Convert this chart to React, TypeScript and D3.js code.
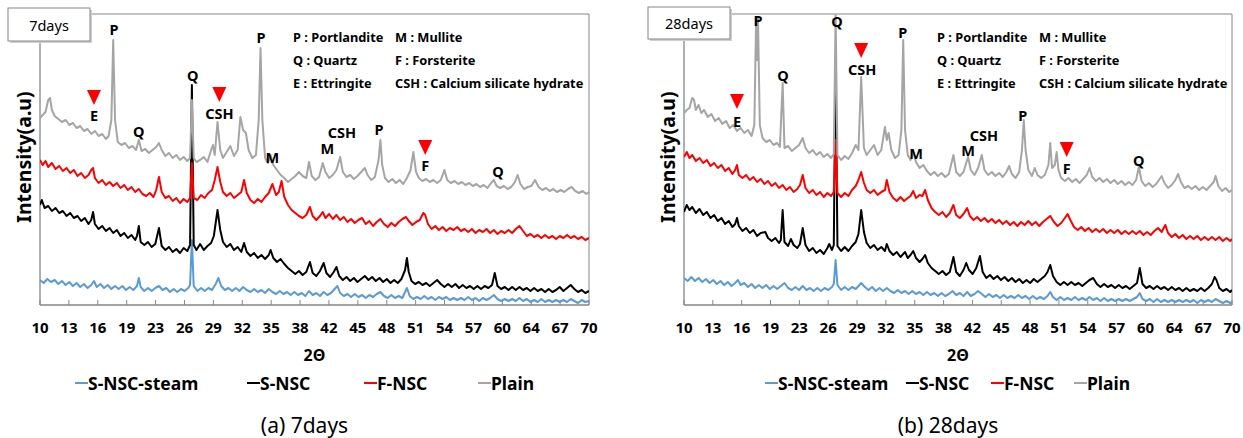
import React from "react";
import * as d3 from "d3";

type Pt = [number, number];

const tickLabels = ["10", "13", "16", "19", "23", "26", "29", "32", "35", "38", "42", "45", "48", "51", "54", "57", "60", "64", "67", "70"];
const seriesNames = ["S-NSC-steam", "S-NSC", "F-NSC", "Plain"];
const seriesColors = ["#5B9BD5", "#000000", "#FF0000", "#A5A5A5"];
const phaseNotes = [
  ["P : Portlandite", "M : Mullite"],
  ["Q : Quartz", "F : Forsterite"],
  ["E : Ettringite", "CSH : Calcium silicate hydrate"],
];

// 7 days, [2theta, intensity a.u.]
const steam7: Pt[] = [[10.0,25],[10.4,22],[10.8,26],[11.2,23],[11.6,25],[12.0,21],[12.4,24],[12.8,20],[13.2,23],[13.6,19],[14.0,22],[14.4,18],[14.8,21],[15.2,17],[15.6,20],[15.9,24],[16.2,18],[16.6,21],[17.0,17],[17.4,20],[17.8,16],[18.2,19],[18.6,16],[19.0,19],[19.4,15],[19.8,18],[20.2,15],[20.6,19],[20.8,27],[21.0,18],[21.4,14],[21.8,17],[22.2,14],[22.6,17],[23.0,19],[23.4,15],[23.8,17],[24.2,13],[24.6,16],[25.0,13],[25.4,16],[25.8,14],[26.2,17],[26.4,20],[26.6,65],[26.8,19],[27.2,14],[27.6,17],[28.0,14],[28.4,17],[28.8,15],[29.2,21],[29.5,27],[29.8,19],[30.2,15],[30.6,17],[31.0,14],[31.4,17],[31.8,14],[32.2,18],[32.6,15],[33.0,13],[33.4,16],[33.8,13],[34.2,15],[34.6,12],[35.0,16],[35.4,13],[35.8,11],[36.2,14],[36.6,11],[37.0,13],[37.4,10],[37.8,13],[38.2,10],[38.6,12],[39.0,9],[39.4,14],[39.8,10],[40.2,12],[40.6,9],[41.0,13],[41.4,10],[41.8,12],[42.2,16],[42.5,19],[42.8,12],[43.2,9],[43.6,11],[44.0,8],[44.4,11],[44.8,8],[45.2,10],[45.6,7],[46.0,10],[46.4,8],[46.8,11],[47.2,13],[47.6,9],[48.0,7],[48.4,10],[48.8,7],[49.2,9],[49.6,7],[50.1,17],[50.4,9],[50.8,6],[51.2,8],[51.6,6],[52.0,9],[52.4,6],[52.8,8],[53.2,5],[53.6,8],[54.0,6],[54.4,8],[54.8,5],[55.2,7],[55.6,5],[56.0,7],[56.4,5],[56.8,8],[57.2,5],[57.6,7],[58.0,4],[58.4,7],[58.8,5],[59.2,7],[59.6,10],[60.0,6],[60.4,4],[60.8,6],[61.2,4],[61.6,6],[62.0,4],[62.4,7],[62.8,4],[63.2,6],[63.6,3],[64.0,5],[64.4,3],[64.8,6],[65.2,3],[65.6,5],[66.0,3],[66.4,5],[66.8,3],[67.2,5],[67.6,3],[68.0,6],[68.4,4],[68.8,2],[69.2,5],[69.6,3],[70.0,4]];
const snsc7: Pt[] = [[10.0,100],[10.2,105],[10.5,97],[10.9,99],[11.3,94],[11.7,97],[12.1,92],[12.5,94],[12.9,89],[13.3,92],[13.7,87],[14.1,89],[14.5,84],[14.9,87],[15.3,81],[15.6,85],[15.8,93],[16.0,81],[16.4,76],[16.8,79],[17.2,74],[17.6,77],[18.0,72],[18.4,75],[18.8,69],[19.2,72],[19.6,67],[20.0,70],[20.4,65],[20.6,69],[20.8,79],[21.0,63],[21.4,60],[21.8,63],[22.2,58],[22.6,61],[23.0,77],[23.3,59],[23.7,55],[24.1,58],[24.5,53],[24.9,56],[25.3,52],[25.7,57],[26.1,54],[26.4,60],[26.6,220],[26.8,60],[27.1,55],[27.5,61],[27.9,55],[28.3,59],[28.7,62],[29.0,69],[29.4,95],[29.7,75],[30.0,63],[30.4,58],[30.8,61],[31.2,55],[31.6,58],[32.0,53],[32.3,62],[32.6,53],[33.0,49],[33.4,52],[33.8,47],[34.2,50],[34.6,46],[35.0,50],[35.2,55],[35.5,47],[35.9,43],[36.3,46],[36.7,41],[37.1,37],[37.5,34],[37.9,31],[38.3,34],[38.7,30],[39.1,33],[39.5,43],[39.8,32],[40.2,29],[40.6,34],[41.0,42],[41.3,32],[41.7,28],[42.1,33],[42.4,38],[42.7,29],[43.1,25],[43.5,28],[43.9,24],[44.3,27],[44.7,23],[45.1,26],[45.5,29],[45.9,25],[46.3,28],[46.7,24],[47.1,27],[47.5,23],[47.9,26],[48.3,22],[48.7,25],[49.1,22],[49.5,26],[49.9,35],[50.1,47],[50.3,33],[50.6,24],[51.0,21],[51.4,23],[51.8,20],[52.2,22],[52.6,19],[53.0,22],[53.4,25],[53.8,21],[54.2,18],[54.6,21],[55.0,18],[55.4,21],[55.8,17],[56.2,20],[56.6,17],[57.0,19],[57.4,16],[57.8,19],[58.2,16],[58.6,19],[59.0,17],[59.4,20],[59.7,32],[60.0,19],[60.4,16],[60.8,18],[61.2,15],[61.6,18],[62.0,15],[62.4,18],[62.8,15],[63.2,17],[63.6,14],[64.0,17],[64.4,14],[64.8,16],[65.2,13],[65.6,16],[66.0,13],[66.4,15],[66.8,18],[67.2,14],[67.6,17],[68.0,20],[68.4,16],[68.8,13],[69.2,15],[69.6,12],[70.0,14]];
const fnsc7: Pt[] = [[10.0,145],[10.3,140],[10.6,144],[10.9,138],[11.3,142],[11.7,136],[12.1,139],[12.5,134],[12.9,137],[13.3,132],[13.7,135],[14.1,129],[14.5,132],[14.9,127],[15.3,130],[15.6,135],[15.8,137],[16.0,127],[16.4,122],[16.8,125],[17.2,120],[17.6,123],[18.0,119],[18.4,122],[18.8,117],[19.2,120],[19.6,115],[20.0,118],[20.4,113],[20.8,116],[21.2,111],[21.6,109],[22.0,112],[22.4,108],[22.7,115],[23.0,128],[23.3,113],[23.7,107],[24.1,109],[24.5,104],[24.9,107],[25.3,102],[25.7,106],[26.1,103],[26.4,107],[26.6,142],[26.8,107],[27.2,105],[27.6,110],[28.0,107],[28.4,112],[28.8,115],[29.1,125],[29.4,138],[29.7,123],[30.0,113],[30.4,109],[30.8,112],[31.2,107],[31.6,110],[32.0,113],[32.3,125],[32.6,112],[33.0,105],[33.4,102],[33.8,106],[34.2,103],[34.6,108],[35.0,112],[35.4,121],[35.8,110],[36.1,113],[36.4,124],[36.7,108],[37.1,100],[37.5,95],[37.9,92],[38.3,89],[38.7,87],[39.1,90],[39.5,98],[39.8,89],[40.2,85],[40.6,89],[40.9,93],[41.2,87],[41.6,91],[42.0,86],[42.4,90],[42.8,85],[43.2,88],[43.6,83],[44.0,86],[44.4,82],[44.8,85],[45.2,87],[45.6,81],[46.0,84],[46.4,79],[46.8,83],[47.2,86],[47.6,81],[48.0,78],[48.4,82],[48.8,79],[49.2,83],[49.6,86],[50.0,88],[50.3,84],[50.7,80],[51.1,83],[51.5,85],[51.9,92],[52.1,90],[52.4,81],[52.8,76],[53.2,79],[53.6,75],[54.0,78],[54.4,74],[54.8,77],[55.2,75],[55.6,78],[56.0,74],[56.4,76],[56.8,73],[57.2,76],[57.6,72],[58.0,75],[58.4,73],[58.8,76],[59.2,72],[59.6,75],[60.0,71],[60.4,74],[60.8,72],[61.2,75],[61.6,72],[62.0,76],[62.4,79],[62.8,74],[63.2,69],[63.6,71],[64.0,68],[64.4,70],[64.8,67],[65.2,70],[65.6,67],[66.0,69],[66.4,66],[66.8,69],[67.2,67],[67.6,70],[68.0,67],[68.4,69],[68.8,66],[69.2,68],[69.6,65],[70.0,67]];
const plain7: Pt[] = [[10.0,187],[10.3,190],[10.6,193],[10.9,205],[11.1,207],[11.3,195],[11.6,189],[12.0,186],[12.4,183],[12.8,185],[13.2,180],[13.6,182],[14.0,177],[14.4,179],[14.8,174],[15.2,176],[15.6,171],[16.0,174],[16.4,169],[16.8,171],[17.2,166],[17.5,169],[17.8,185],[18.0,265],[18.2,185],[18.5,163],[18.9,160],[19.3,162],[19.7,157],[20.1,159],[20.5,155],[20.8,165],[21.1,154],[21.5,156],[21.9,152],[22.3,155],[22.7,158],[23.0,162],[23.3,155],[23.7,149],[24.1,152],[24.5,147],[24.9,150],[25.3,145],[25.7,148],[26.1,144],[26.4,147],[26.6,205],[26.8,147],[27.1,143],[27.5,145],[27.9,148],[28.3,143],[28.7,155],[28.9,160],[29.1,150],[29.4,183],[29.7,155],[30.0,147],[30.4,153],[30.8,159],[31.2,149],[31.6,155],[31.9,188],[32.2,175],[32.5,172],[32.8,155],[33.2,147],[33.6,150],[33.9,185],[34.1,257],[34.3,185],[34.6,147],[34.9,142],[35.2,150],[35.5,140],[35.9,135],[36.3,130],[36.7,127],[37.1,123],[37.5,126],[37.9,129],[38.3,133],[38.7,129],[39.1,127],[39.4,143],[39.7,129],[40.1,125],[40.5,128],[40.9,142],[41.2,133],[41.6,127],[42.0,130],[42.4,135],[42.8,148],[43.1,133],[43.5,128],[43.9,130],[44.3,126],[44.7,129],[45.1,133],[45.5,137],[45.8,130],[46.2,125],[46.6,128],[47.0,145],[47.2,165],[47.4,140],[47.7,127],[48.1,123],[48.5,126],[48.9,122],[49.3,125],[49.7,121],[50.1,127],[50.5,135],[50.8,153],[51.1,133],[51.4,127],[51.8,124],[52.2,126],[52.6,123],[53.0,125],[53.4,122],[53.8,125],[54.2,135],[54.5,125],[54.9,122],[55.3,124],[55.7,121],[56.1,123],[56.5,120],[56.9,122],[57.3,119],[57.7,121],[58.1,118],[58.5,120],[58.9,117],[59.3,122],[59.6,125],[59.9,119],[60.3,117],[60.7,119],[61.1,116],[61.5,118],[61.9,123],[62.2,130],[62.5,121],[62.9,116],[63.3,118],[63.7,119],[64.1,125],[64.5,118],[64.9,115],[65.3,117],[65.7,114],[66.1,116],[66.5,113],[66.9,115],[67.3,113],[67.7,116],[68.1,118],[68.5,114],[68.9,112],[69.3,114],[69.7,111],[70.0,113]];

// 28 days
const steam28: Pt[] = [[10.0,27],[10.4,24],[10.8,28],[11.2,24],[11.6,27],[12.0,23],[12.4,26],[12.8,22],[13.2,25],[13.6,21],[14.0,24],[14.4,20],[14.8,23],[15.2,19],[15.6,22],[15.9,25],[16.2,20],[16.6,22],[17.0,18],[17.4,21],[17.8,17],[18.2,20],[18.6,17],[19.0,20],[19.4,16],[19.8,19],[20.2,16],[20.6,19],[21.0,22],[21.4,17],[21.8,15],[22.2,18],[22.6,15],[23.0,19],[23.4,15],[23.8,17],[24.2,14],[24.6,17],[25.0,14],[25.4,17],[25.8,15],[26.2,18],[26.4,21],[26.6,45],[26.8,20],[27.2,15],[27.6,18],[28.0,15],[28.4,18],[28.8,16],[29.2,20],[29.4,22],[29.8,18],[30.2,15],[30.6,18],[31.0,14],[31.4,17],[31.8,14],[32.2,17],[32.6,14],[33.0,12],[33.4,15],[33.8,12],[34.2,14],[34.6,11],[35.0,14],[35.4,11],[35.8,13],[36.2,10],[36.6,13],[37.0,10],[37.4,12],[37.8,9],[38.2,12],[38.6,9],[39.0,11],[39.4,14],[39.8,10],[40.2,12],[40.6,9],[41.0,13],[41.4,9],[41.8,11],[42.2,14],[42.6,11],[43.0,8],[43.4,11],[43.8,8],[44.2,10],[44.6,7],[45.0,10],[45.4,7],[45.8,9],[46.2,7],[46.6,10],[47.0,7],[47.4,9],[47.8,6],[48.2,9],[48.6,6],[49.0,8],[49.4,6],[49.8,9],[50.1,13],[50.4,8],[50.8,5],[51.2,8],[51.6,5],[52.0,7],[52.4,5],[52.8,8],[53.2,5],[53.6,7],[54.0,5],[54.4,8],[54.8,5],[55.2,7],[55.6,4],[56.0,7],[56.4,4],[56.8,6],[57.2,4],[57.6,6],[58.0,4],[58.4,6],[58.8,4],[59.2,6],[59.6,8],[59.9,12],[60.2,6],[60.6,4],[61.0,6],[61.4,3],[61.8,6],[62.2,3],[62.6,5],[63.0,3],[63.4,5],[63.8,3],[64.2,5],[64.6,3],[65.0,5],[65.4,3],[65.8,5],[66.2,2],[66.6,5],[67.0,3],[67.4,5],[67.8,3],[68.2,6],[68.6,4],[69.0,2],[69.4,4],[69.8,2],[70.0,3]];
const snsc28: Pt[] = [[10.0,93],[10.3,100],[10.6,95],[10.9,98],[11.3,92],[11.7,96],[12.1,90],[12.5,93],[12.9,87],[13.3,90],[13.7,84],[14.1,87],[14.5,81],[14.9,84],[15.3,78],[15.6,81],[15.8,87],[16.0,79],[16.4,74],[16.8,77],[17.2,72],[17.6,75],[18.0,69],[18.4,72],[18.9,73],[19.2,67],[19.6,64],[20.0,67],[20.4,62],[20.6,65],[20.8,95],[21.0,63],[21.4,59],[21.7,66],[22.0,60],[22.4,57],[22.7,61],[23.0,77],[23.3,60],[23.7,54],[24.1,57],[24.5,52],[24.9,55],[25.3,51],[25.7,57],[25.9,61],[26.2,55],[26.4,60],[26.6,245],[26.8,59],[27.2,54],[27.6,58],[28.0,54],[28.4,59],[28.8,63],[29.1,71],[29.4,95],[29.7,73],[30.0,62],[30.4,57],[30.8,60],[31.2,55],[31.6,58],[32.0,54],[32.2,61],[32.5,54],[32.9,50],[33.3,53],[33.7,48],[34.2,53],[34.5,47],[34.8,50],[35.1,54],[35.4,47],[35.8,43],[36.1,46],[36.4,50],[36.7,42],[37.1,37],[37.5,34],[37.9,31],[38.3,34],[38.7,30],[39.1,33],[39.5,48],[39.8,33],[40.2,29],[40.6,35],[40.9,42],[41.2,35],[41.6,31],[42.0,37],[42.4,49],[42.7,33],[43.1,27],[43.5,30],[43.9,26],[44.3,29],[44.7,25],[45.1,28],[45.5,24],[45.9,27],[46.3,23],[46.7,26],[47.1,22],[47.5,25],[47.9,22],[48.3,26],[48.7,23],[49.1,26],[49.5,29],[49.8,33],[50.1,40],[50.4,29],[50.8,23],[51.2,20],[51.6,23],[52.0,20],[52.4,23],[52.8,20],[53.2,22],[53.6,19],[54.0,22],[54.4,25],[54.8,27],[55.2,21],[55.6,18],[56.0,21],[56.4,18],[56.8,20],[57.2,17],[57.6,20],[58.0,17],[58.4,19],[58.8,16],[59.2,19],[59.6,22],[59.9,37],[60.2,21],[60.6,17],[61.0,19],[61.4,16],[61.8,19],[62.2,16],[62.6,18],[63.0,15],[63.4,18],[63.8,15],[64.2,17],[64.6,14],[65.0,17],[65.4,14],[65.8,16],[66.2,14],[66.6,17],[67.0,14],[67.4,17],[67.8,21],[68.1,28],[68.3,25],[68.6,17],[69.0,14],[69.4,16],[69.8,13],[70.0,15]];
const fnsc28: Pt[] = [[10.0,148],[10.3,153],[10.6,147],[10.9,150],[11.3,144],[11.7,147],[12.1,142],[12.5,145],[12.9,139],[13.3,142],[13.7,137],[14.1,140],[14.5,134],[14.9,137],[15.3,131],[15.6,135],[15.8,140],[16.0,130],[16.4,127],[16.8,130],[17.2,125],[17.6,128],[18.0,123],[18.4,126],[18.8,121],[19.2,124],[19.6,119],[20.0,122],[20.4,117],[20.8,120],[21.2,115],[21.6,118],[22.0,113],[22.4,116],[22.7,120],[23.0,130],[23.3,117],[23.7,112],[24.1,115],[24.5,110],[24.9,113],[25.3,108],[25.7,112],[26.1,109],[26.4,113],[26.6,165],[26.8,112],[27.2,108],[27.6,112],[28.0,109],[28.4,115],[28.8,119],[29.1,125],[29.4,133],[29.7,122],[30.0,115],[30.4,112],[30.8,115],[31.2,110],[31.6,113],[32.0,115],[32.2,125],[32.5,113],[32.9,107],[33.3,104],[33.7,108],[34.1,104],[34.5,107],[34.8,109],[35.1,114],[35.4,107],[35.8,110],[36.1,109],[36.4,115],[36.7,105],[37.1,97],[37.5,93],[37.9,90],[38.3,93],[38.7,88],[39.1,92],[39.5,100],[39.8,90],[40.2,87],[40.6,91],[41.0,97],[41.3,89],[41.7,85],[42.1,88],[42.5,84],[42.9,87],[43.3,83],[43.7,86],[44.1,82],[44.5,85],[44.9,81],[45.3,84],[45.7,80],[46.1,83],[46.5,79],[46.9,83],[47.3,80],[47.7,84],[48.1,80],[48.5,83],[48.9,79],[49.3,83],[49.7,86],[50.1,89],[50.5,83],[50.9,79],[51.3,82],[51.7,87],[52.0,91],[52.3,85],[52.7,78],[53.1,75],[53.5,78],[53.9,74],[54.3,77],[54.7,73],[55.1,76],[55.5,73],[55.9,76],[56.3,72],[56.7,75],[57.1,72],[57.5,75],[57.9,71],[58.3,74],[58.7,71],[59.1,74],[59.5,71],[59.9,74],[60.3,70],[60.7,73],[61.1,70],[61.5,74],[61.9,77],[62.3,73],[62.7,80],[63.0,72],[63.4,68],[63.8,71],[64.2,67],[64.6,70],[65.0,66],[65.4,69],[65.8,66],[66.2,69],[66.6,65],[67.0,68],[67.4,65],[67.8,68],[68.2,65],[68.6,68],[69.0,64],[69.4,67],[69.8,64],[70.0,66]];
const plain28: Pt[] = [[10.0,192],[10.3,195],[10.6,197],[10.9,207],[11.1,205],[11.3,195],[11.6,200],[11.9,192],[12.2,195],[12.6,188],[13.0,191],[13.4,184],[13.8,187],[14.2,181],[14.6,184],[15.0,177],[15.4,180],[15.8,174],[16.2,177],[16.6,172],[17.0,175],[17.4,169],[17.7,180],[17.9,287],[18.0,245],[18.1,287],[18.3,180],[18.6,167],[19.0,163],[19.4,165],[19.8,160],[20.2,162],[20.5,158],[20.8,222],[21.0,157],[21.4,159],[21.8,154],[22.2,157],[22.6,160],[23.0,167],[23.3,157],[23.7,152],[24.1,155],[24.5,150],[24.9,153],[25.3,148],[25.7,151],[26.1,147],[26.4,151],[26.6,290],[26.8,150],[27.2,145],[27.6,149],[28.0,146],[28.4,152],[28.8,160],[29.1,155],[29.4,228],[29.7,157],[30.0,150],[30.4,155],[30.8,160],[31.2,150],[31.6,155],[32.0,178],[32.2,165],[32.4,172],[32.7,155],[33.1,147],[33.5,150],[33.8,175],[34.0,265],[34.2,175],[34.5,150],[34.8,145],[35.1,153],[35.4,143],[35.8,137],[36.2,140],[36.6,134],[37.0,130],[37.4,133],[37.8,129],[38.2,132],[38.6,128],[39.0,131],[39.5,150],[39.8,133],[40.2,129],[40.6,133],[41.1,148],[41.4,135],[41.8,130],[42.2,137],[42.6,150],[42.9,135],[43.3,130],[43.7,133],[44.1,129],[44.5,132],[44.9,128],[45.3,133],[45.6,139],[45.9,131],[46.3,127],[46.7,133],[47.0,155],[47.2,185],[47.4,155],[47.7,135],[48.1,129],[48.4,137],[48.7,130],[49.1,127],[49.5,130],[49.9,140],[50.1,162],[50.3,137],[50.6,140],[50.8,153],[51.0,135],[51.3,127],[51.7,124],[52.1,127],[52.5,123],[52.9,126],[53.3,122],[53.7,126],[54.1,130],[54.4,137],[54.7,128],[55.1,124],[55.5,127],[55.9,123],[56.3,126],[56.7,122],[57.1,125],[57.5,121],[57.9,124],[58.3,120],[58.7,123],[59.1,120],[59.5,125],[59.8,138],[60.1,124],[60.5,119],[60.9,122],[61.3,118],[61.7,121],[62.0,125],[62.3,129],[62.6,122],[63.0,117],[63.4,120],[63.8,125],[64.1,131],[64.4,123],[64.8,117],[65.2,119],[65.6,116],[66.0,119],[66.4,115],[66.8,118],[67.2,115],[67.6,119],[68.0,123],[68.2,129],[68.5,119],[68.9,114],[69.3,117],[69.7,113],[70.0,115]];

// peak labels [text, 2theta, intensity] and red markers [2theta, intensity]
const peaks7: [string, number, number][] = [["P",18.1,276],["Q",26.7,230],["CSH",29.6,192],["P",34.15,268],["E",15.9,190],["Q",20.8,174],["M",35.4,148],["M",41.4,157],["CSH",43.0,173],["P",47.05,176],["F",52.1,140],["Q",60.05,134]];
const marks7: Pt[] = [[15.9,215],[29.6,218],[52.1,165]];
const peaks28: [string, number, number][] = [["P",18.1,285],["Q",26.75,284],["CSH",29.5,236],["Q",20.85,230],["P",33.95,273],["E",15.8,184],["M",35.4,152],["M",41.1,155],["CSH",42.85,170],["P",47.1,190],["F",51.9,137],["Q",59.8,145]];
const marks28: Pt[] = [[15.8,211],[29.4,262],[51.9,163]];

const FONT = "'Noto Sans', 'Open Sans', sans-serif";
const TOP = 14;
const BOTTOM = 305;
const AXIS = "#868686";

type PanelProps = {
  x0: number;
  w: number;
  title: string;
  titleBox: [number, number, number, number];
  caption: string;
  series: Pt[][];
  peaks: [string, number, number][];
  marks: Pt[];
  legendX: number[];
  yLabelX: number;
  id: string;
};

function Panel({ x0, w, title, titleBox, caption, series, peaks, marks, legendX, yLabelX, id }: PanelProps) {
  const x1 = x0 + w;
  const x = d3.scaleLinear().domain([10, 70]).range([x0, x1]);
  const y = d3.scaleLinear().domain([0, 291]).range([BOTTOM, TOP]);
  const xt = d3.scalePoint<string>().domain(tickLabels).range([x0, x1]);
  const line = d3.line<Pt>().x((d) => x(d[0])).y((d) => y(d[1]));
  const [bx, by, bw, bh] = titleBox;
  const cx = (x0 + x1) / 2;

  return (
    <g>
      <defs>
        <clipPath id={id}>
          <rect x={x0} y={TOP} width={w} height={BOTTOM - TOP} />
        </clipPath>
      </defs>
      {/* plot frame */}
      <line x1={x0} y1={TOP} x2={x1} y2={TOP} stroke={AXIS} strokeWidth={1} />
      <line x1={x1} y1={TOP} x2={x1} y2={BOTTOM} stroke={AXIS} strokeWidth={1} />
      <line x1={x0} y1={TOP} x2={x0} y2={BOTTOM} stroke={AXIS} strokeWidth={1.3} />
      <line x1={x0} y1={BOTTOM} x2={x1} y2={BOTTOM} stroke={AXIS} strokeWidth={1.3} />
      {tickLabels.map((t) => (
        <g key={t}>
          <line x1={xt(t)} x2={xt(t)} y1={BOTTOM} y2={BOTTOM - 5} stroke={AXIS} />
          <text x={xt(t)} y={327} textAnchor="middle" dominantBaseline="central" fontFamily={FONT} fontWeight="bold" fontSize={15} fill="#000">
            {t}
          </text>
        </g>
      ))}

      <g clipPath={`url(#${id})`}>
        {series.map((s, i) => (
          <path key={seriesNames[i]} d={line(s) || ""} fill="none" stroke={seriesColors[i]} strokeWidth={2} strokeLinejoin="round" />
        ))}
      </g>

      {peaks.map(([t, a, b], i) => (
        <text key={i} x={x(a)} y={y(b)} textAnchor="middle" dominantBaseline="central" fontFamily={FONT} fontWeight="bold" fontSize={14.5} fill="#000">
          {t}
        </text>
      ))}
      {marks.map(([a, b], i) => {
        const px = x(a), py = y(b);
        return <path key={i} d={`M${px - 7},${py}L${px + 7},${py}L${px},${py + 15}Z`} fill="#FF0000" />;
      })}

      {phaseNotes.map((row, r) =>
        row.map((t, c) => (
          <text key={t} x={x0 + (c === 0 ? 253 : 355)} y={TOP + 23 + r * 23} dominantBaseline="central" fontFamily={FONT} fontWeight="bold" fontSize={12.8} fill="#000">
            {t}
          </text>
        ))
      )}

      {/* title box */}
      <rect x={bx + 2} y={by + 2} width={bw} height={bh} fill="#d0d0d0" />
      <rect x={bx} y={by} width={bw} height={bh} fill="#fff" stroke={AXIS} strokeWidth={1} />
      <text x={bx + bw / 2} y={by + bh / 2} textAnchor="middle" dominantBaseline="central" fontFamily={FONT} fontSize={14.5} fill="#000">
        {title}
      </text>

      <text transform={`translate(${yLabelX},157) rotate(-90)`} textAnchor="middle" dominantBaseline="central" fontFamily={FONT} fontWeight="bold" fontSize={19.5} fill="#000">
        Intensity(a.u)
      </text>
      <text x={cx} y={355} textAnchor="middle" dominantBaseline="central" fontFamily={FONT} fontWeight="bold" fontSize={16} fill="#000">
        2Θ
      </text>

      {seriesNames.map((n, i) => (
        <g key={n}>
          <line x1={legendX[i]} x2={legendX[i] + 13} y1={383} y2={383} stroke={seriesColors[i]} strokeWidth={2} />
          <text x={legendX[i] + 13} y={383} dominantBaseline="central" fontFamily={FONT} fontWeight="bold" fontSize={17.5} fill="#000">
            {n}
          </text>
        </g>
      ))}

      <text x={cx - 10} y={425} textAnchor="middle" dominantBaseline="central" fontFamily={FONT} fontSize={21} fill="#000">
        {caption}
      </text>
    </g>
  );
}

export default function App() {
  return (
    <svg width={1243} height={438} style={{ position: "absolute", left: 0, top: 0, background: "#fff" }}>
      <rect width={1243} height={438} fill="#fff" />
      <Panel
        id="c7"
        x0={40}
        w={549}
        title="7days"
        titleBox={[8, 8, 82, 33]}
        caption="(a) 7days"
        series={[steam7, snsc7, fnsc7, plain7]}
        peaks={peaks7}
        marks={marks7}
        legendX={[75, 247, 364, 478]}
        yLabelX={23}
      />
      <Panel
        id="c28"
        x0={684}
        w={548}
        title="28days"
        titleBox={[648, 7, 82, 32]}
        caption="(b) 28days"
        series={[steam28, snsc28, fnsc28, plain28]}
        peaks={peaks28}
        marks={marks28}
        legendX={[765, 906, 991, 1074]}
        yLabelX={667}
      />
    </svg>
  );
}
